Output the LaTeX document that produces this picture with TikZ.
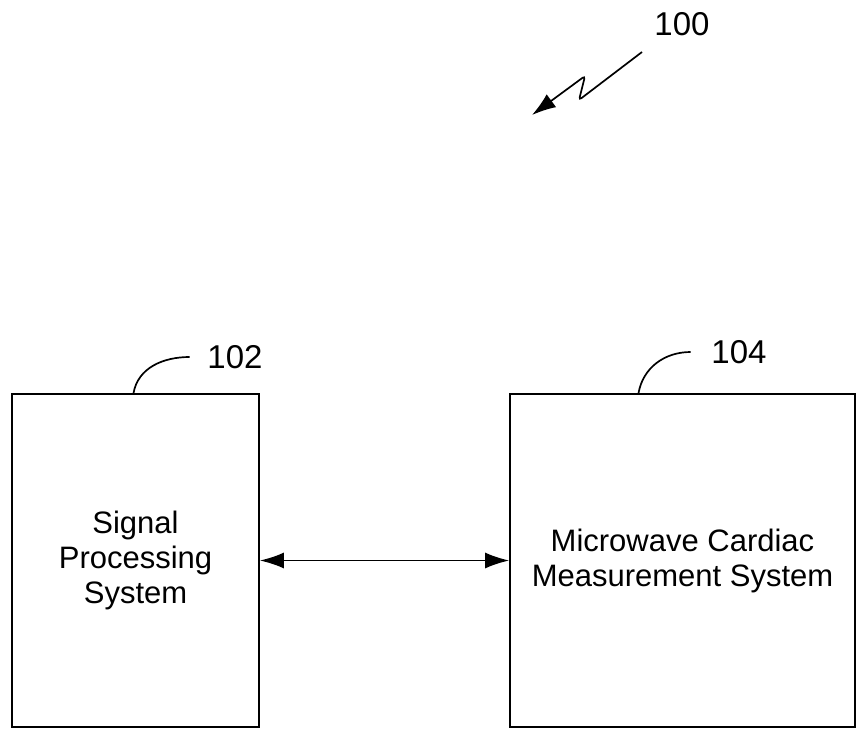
\documentclass[tikz,border=0pt]{standalone}
\usepackage{fontspec}
\setmainfont{Liberation Sans}
\usepackage{tikz}
\usetikzlibrary{positioning, arrows.meta}

\begin{document}
\begin{tikzpicture}[x=0.5pt, y=0.5pt, line width=0.85pt,
  block/.style={draw, align=center, inner sep=0pt, font=\fontsize{15.5}{17.5}\selectfont},
  refnum/.style={inner sep=0pt, font=\fontsize{16.5}{19}\selectfont},
  tip/.style={-{Latex[length=12pt, width=8pt]}}]
\useasboundingbox (0,0) rectangle (856,730);
\node[block, minimum width=123.5pt, minimum height=166.5pt] (sps) at (135.5,169.5)
  {Signal\\Processing\\System};
\node[block, minimum width=172.5pt, minimum height=166.5pt] (mcms) at (682.5,169.5)
  {Microwave Cardiac\\Measurement System};
\draw[{Latex[length=12pt, width=8pt]}-{Latex[length=12pt, width=8pt]}] (sps) -- (mcms);
% reference numerals
\node[refnum] (l102) at (235,373) {102};
\node[refnum] (l104) at (739,378) {104};
\node[refnum] (l100) at (682,706) {100};
\draw ([xshift=-1pt]sps.north) to[out=80, in=180] ([xshift=-8.5pt]l102.west);
\draw ([xshift=-22pt]mcms.north) to[out=80, in=180] ([xshift=-10pt]l104.west);
\coordinate (z100) at (642,678);
\coordinate (t100) at (532,615);
\draw[tip, rounded corners=1.5pt] (z100) -- (579,630) -- (585,654) -- (t100);
\end{tikzpicture}
\end{document}
